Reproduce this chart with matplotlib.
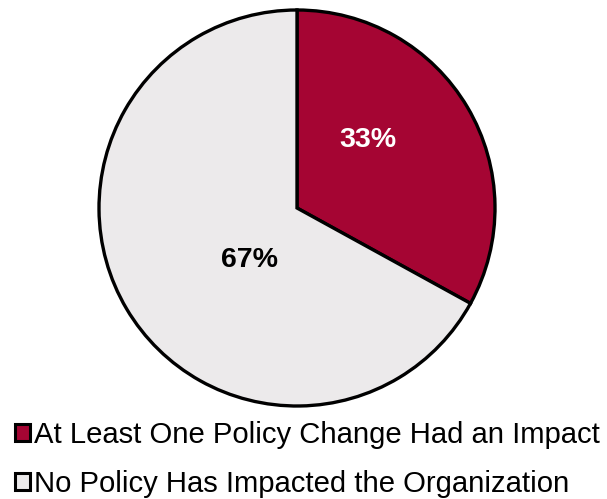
import matplotlib
matplotlib.use("Agg")
import matplotlib.pyplot as plt
from matplotlib.patches import Patch

plt.rcParams['font.family'] = ['Liberation Sans', 'DejaVu Sans']

categories = ['At Least One Policy Change Had an Impact',
              'No Policy Has Impacted the Organization']
shares = [33, 67]
colors = ['#A50533', '#ECEAEB']
# where each percentage sits, as a fraction of the radius
label_pos = [(0.36, 0.345), (-0.24, -0.265)]
label_colors = ['white', 'black']

W, H = 607, 499
fig = plt.figure(figsize=(W / 100, H / 100), dpi=100)

cx, cy, r = 297, 208, 198
pad = 1.03
ax = fig.add_axes([(cx - r * pad) / W, (H - cy - r * pad) / H,
                   2 * r * pad / W, 2 * r * pad / H])
ax.pie(shares, colors=colors, startangle=90, counterclock=False,
       radius=1, wedgeprops={'edgecolor': 'black', 'linewidth': 2.4})
ax.set_xlim(-pad, pad)
ax.set_ylim(-pad, pad)
ax.set_aspect('equal')
ax.axis('off')

for v, (x, y), c in zip(shares, label_pos, label_colors):
    ax.text(x, y, f'{v}%', ha='center', va='center', fontsize=20.5,
            fontweight='bold', color=c)

handles = [Patch(facecolor=c, edgecolor='black', linewidth=2.2) for c in colors]
fig.legend(handles, categories, loc='upper left', bbox_to_anchor=(0.024, 0.156),
           frameon=False, fontsize=21.1, handlelength=0.53, handleheight=0.53,
           handletextpad=0.13, labelspacing=0.71, borderpad=0, borderaxespad=0)

fig.savefig('out.png', dpi=100)
